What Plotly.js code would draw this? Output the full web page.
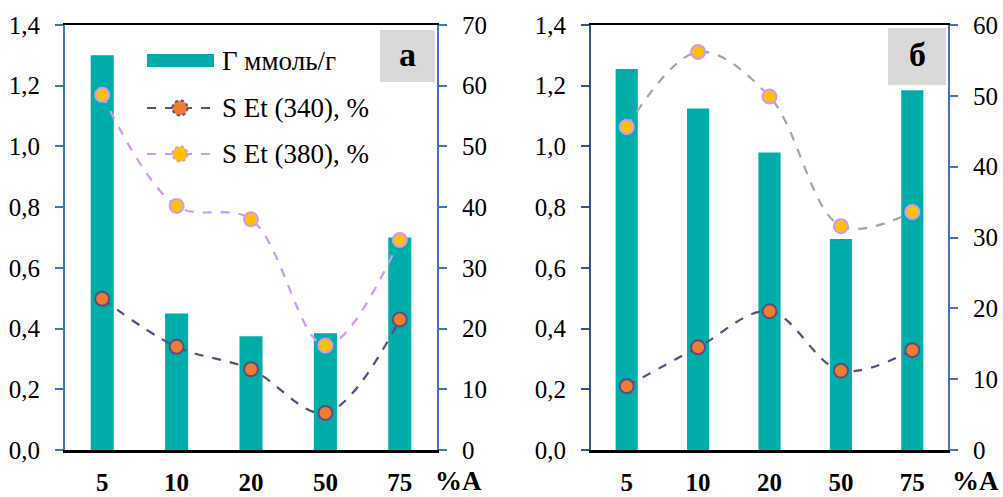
<!DOCTYPE html>
<html>
<head>
<meta charset="utf-8">
<script src="https://cdn.plot.ly/plotly-3.0.1.min.js"></script>
<style>html,body{margin:0;padding:0;background:#fff;}#chart{width:1003px;height:497px;}</style>
</head>
<body>
<div id="chart"></div>
<script>
// ---- data ----
var categories = ['5', '10', '20', '50', '75'];
// panel а
var gammaA = [1.30, 0.45, 0.375, 0.385, 0.70];
var sEt340A = [24.9, 17.0, 13.3, 6.1, 21.5];
var sEt380A = [58.5, 40.2, 38.0, 17.2, 34.6];
// panel б
var gammaB = [1.255, 1.125, 0.98, 0.695, 1.185];
var sEt340B = [9.0, 14.5, 19.6, 11.2, 14.1];
var sEt380B = [45.6, 56.2, 49.9, 31.6, 33.6];
// labels
var legendLabels = ['Г ммоль/г', 'S Et (340), %', 'S Et (380), %'];
var panelLabels = ['а', 'б'];
var xUnit = '%A';

var W = 1003, H = 497;
function px(x){ return x / W; }
function py(y){ return 1 - y / H; }

var FONT = 'Liberation Serif';
var TEAL = '#00ADA8';
var C340 = '#5E4B80';
var F340 = '#ED7D31';
var C380A = '#CC99FF';
var C380B = '#A6A6A6';
var F380 = '#FFC000';
var BLUE = '#4472C4';
var NAVY = '#2F5597';

function barTrace(vals, xa, ya){
  return {type:'bar', x:categories, y:vals, xaxis:xa, yaxis:ya,
    marker:{color:TEAL}, showlegend:false, hoverinfo:'skip'};
}
function lineTrace(vals, xa, ya, lc, fc, mlc){
  return {type:'scatter', mode:'lines+markers', x:categories, y:vals, xaxis:xa, yaxis:ya,
    line:{color:lc, width:2.2, dash:'dash', shape:'spline', smoothing:1},
    marker:{size:14, color:fc, line:{color:mlc, width:2}}, showlegend:false, hoverinfo:'skip'};
}

var traces = [
  barTrace(gammaA, 'x', 'y'),
  lineTrace(sEt340A, 'x', 'y2', C340, F340, C340),
  lineTrace(sEt380A, 'x', 'y2', C380A, F380, C380A),
  barTrace(gammaB, 'x2', 'y3'),
  lineTrace(sEt340B, 'x2', 'y4', C340, F340, C340),
  lineTrace(sEt380B, 'x2', 'y4', C380B, F380, C380A)
];

var tickFont = {family:FONT, size:25, color:'#000'};
var xTickFont = {family:FONT, size:25, color:'#000', weight:'bold'};

function xAxis(dom){
  return {domain:dom, type:'category', showline:true, mirror:true, linecolor:'#000', linewidth:2.5,
    ticks:'', showgrid:false, zeroline:false, tickfont:xTickFont, ticklabelstandoff:8, fixedrange:true};
}
function yAxis(range, dtick, side, color, overlay, anchor, fmt){
  var a = {domain:[py(450), py(25)], range:range, dtick:dtick, tick0:0, side:side, showline:true,
    linecolor:color, linewidth:2, ticks:'outside', ticklen:8, tickwidth:2, tickcolor:color,
    showgrid:false, zeroline:false, tickfont:tickFont, anchor:anchor, fixedrange:true, ticklabelstandoff:10};
  if (overlay) a.overlaying = overlay;
  if (fmt) a.tickformat = fmt;
  return a;
}

var layout = {
  width:W, height:H,
  margin:{l:0, r:0, t:0, b:0},
  paper_bgcolor:'#fff', plot_bgcolor:'rgba(0,0,0,0)',
  separators:', ',
  bargap:0.69,
  showlegend:false,
  font:{family:FONT, color:'#000'},
  xaxis: xAxis([px(65), px(437)]),
  xaxis2: Object.assign(xAxis([px(591), px(948)]), {anchor:'y3'}),
  yaxis: yAxis([0,1.4], 0.2, 'left', BLUE, null, 'x', '.1f'),
  yaxis2: yAxis([0,70], 10, 'right', BLUE, 'y', 'x', null),
  yaxis3: yAxis([0,1.4], 0.2, 'left', NAVY, null, 'x2', '.1f'),
  yaxis4: yAxis([0,60], 10, 'right', BLUE, 'y3', 'x2', null),
  shapes: [],
  annotations: []
};

// panel label boxes
layout.shapes.push({type:'rect', xref:'paper', yref:'paper', x0:px(380), x1:px(435), y0:py(82), y1:py(30),
  fillcolor:'#D9D9D9', line:{width:0}, layer:'below'});
layout.shapes.push({type:'rect', xref:'paper', yref:'paper', x0:px(888), x1:px(946), y0:py(85), y1:py(28),
  fillcolor:'#D9D9D9', line:{width:0}, layer:'below'});
layout.annotations.push({xref:'paper', yref:'paper', x:px(407), y:py(55), text:'<b>'+panelLabels[0]+'</b>',
  showarrow:false, font:{family:FONT, size:34, color:'#000'}, xanchor:'center', yanchor:'middle'});
layout.annotations.push({xref:'paper', yref:'paper', x:px(917), y:py(55), text:'<b>'+panelLabels[1]+'</b>',
  showarrow:false, font:{family:FONT, size:34, color:'#000'}, xanchor:'center', yanchor:'middle'});

// %A unit labels
layout.annotations.push({xref:'paper', yref:'paper', x:px(458), y:py(481), text:'<b>'+xUnit+'</b>',
  showarrow:false, font:{family:FONT, size:27, color:'#000'}, xanchor:'center', yanchor:'middle'});
layout.annotations.push({xref:'paper', yref:'paper', x:px(975), y:py(481), text:'<b>'+xUnit+'</b>',
  showarrow:false, font:{family:FONT, size:27, color:'#000'}, xanchor:'center', yanchor:'middle'});

// custom legend (panel а)
var lgX0 = 147, lgX1 = 214, lgTx = 220, rows = [61, 108, 154];
layout.shapes.push({type:'rect', xref:'paper', yref:'paper', x0:px(lgX0), x1:px(lgX1), y0:py(67), y1:py(54),
  fillcolor:TEAL, line:{width:0}});
[[C340, F340, C340], [C380A, F380, C380A]].forEach(function(c, i){
  var yy = rows[i+1];
  layout.shapes.push({type:'line', xref:'paper', yref:'paper', x0:px(lgX0), x1:px(lgX1), y0:py(yy), y1:py(yy),
    line:{color:c[0], width:2.2, dash:'dash'}});
  layout.shapes.push({type:'circle', xref:'paper', yref:'paper', x0:px(180-7.5), x1:px(180+7.5), y0:py(yy+7.5), y1:py(yy-7.5),
    fillcolor:c[1], line:{color:c[2], width:2, dash:'dot'}});
});
legendLabels.forEach(function(t, i){
  layout.annotations.push({xref:'paper', yref:'paper', x:px(lgTx), y:py(rows[i]), text:t, showarrow:false,
    font:{family:FONT, size:27, color:'#000'}, xanchor:'left', yanchor:'middle'});
});

Plotly.newPlot('chart', traces, layout, {staticPlot:true, displayModeBar:false});
</script>
</body>
</html>
